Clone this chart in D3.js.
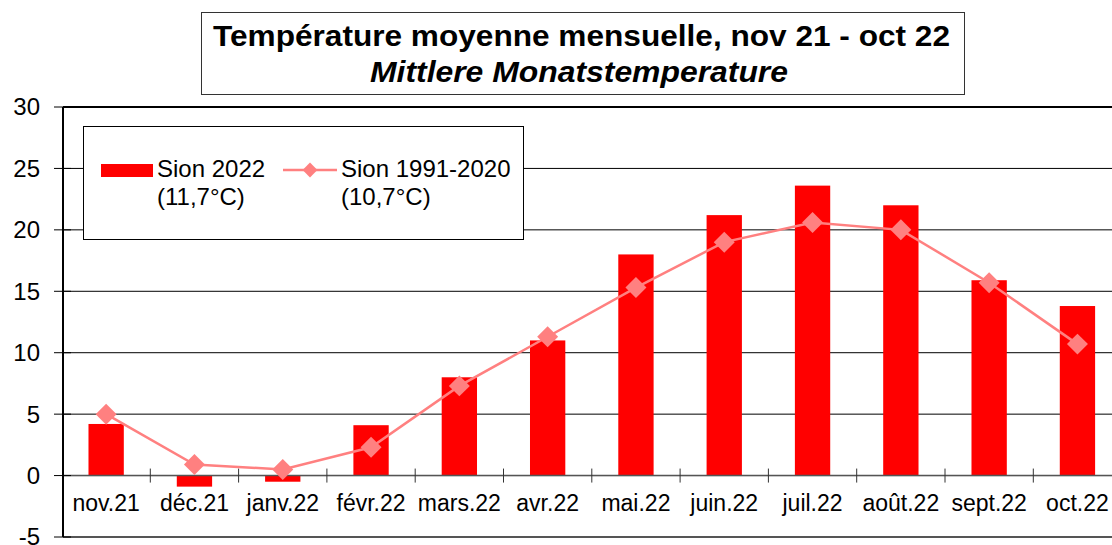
<!DOCTYPE html>
<html>
<head>
<meta charset="utf-8">
<script src="https://cdn.jsdelivr.net/npm/d3@7"></script>
<style>
  body { margin: 0; background: #fff; }
  svg { display: block; font-family: "Liberation Sans", Arial, sans-serif; }
</style>
</head>
<body>
<svg width="1112" height="545"></svg>
<script>
// Monthly mean temperature, Sion
const months = ["nov.21", "déc.21", "janv.22", "févr.22", "mars.22", "avr.22",
                "mai.22", "juin.22", "juil.22", "août.22", "sept.22", "oct.22"];
const sion2022 = [4.2, -0.9, -0.5, 4.1, 8.0, 11.0, 18.0, 21.2, 23.6, 22.0, 15.9, 13.8];
const sionNorm = [5.0, 0.9, 0.5, 2.3, 7.3, 11.3, 15.3, 19.0, 20.6, 20.0, 15.7, 10.7];
const yTicks = [-5, 0, 5, 10, 15, 20, 25, 30];

const svg = d3.select("svg");

const x = d3.scaleBand().domain(months).range([62, 62 + 12 * 88.3]).paddingInner(0.6).paddingOuter(0.3);
const y = d3.scaleLinear().domain([-5, 30]).range([537, 107]);
const step = x.step();

// grid lines
svg.append("g")
    .selectAll("line")
    .data(yTicks)
    .join("line")
    .attr("x1", 63).attr("x2", 1112)
    .attr("y1", d => y(d)).attr("y2", d => y(d))
    .attr("stroke", "#000").attr("stroke-width", 1);

// top / bottom frame a bit heavier
svg.append("line").attr("x1", 63).attr("x2", 1112).attr("y1", y(30)).attr("y2", y(30))
    .attr("stroke", "#000").attr("stroke-width", 2);
svg.append("line").attr("x1", 63).attr("x2", 1112).attr("y1", y(-5)).attr("y2", y(-5))
    .attr("stroke", "#555").attr("stroke-width", 2);

// bars
svg.append("g")
    .selectAll("rect")
    .data(sion2022)
    .join("rect")
    .attr("x", (d, i) => x(months[i]))
    .attr("width", x.bandwidth())
    .attr("y", d => y(Math.max(0, d)))
    .attr("height", d => Math.abs(y(d) - y(0)))
    .attr("fill", "#ff0000");

// zero axis with cross ticks at category boundaries
svg.append("line").attr("x1", 63).attr("x2", 1112).attr("y1", y(0)).attr("y2", y(0))
    .attr("stroke", "#555").attr("stroke-width", 1.5);
svg.append("g")
    .selectAll("line")
    .data(d3.range(1, 12))
    .join("line")
    .attr("x1", i => 62 + i * step).attr("x2", i => 62 + i * step)
    .attr("y1", y(0) - 7).attr("y2", y(0) + 7)
    .attr("stroke", "#333").attr("stroke-width", 1);

// y axis
svg.append("line").attr("x1", 63).attr("x2", 63).attr("y1", y(30)).attr("y2", y(-5))
    .attr("stroke", "#000").attr("stroke-width", 2);
svg.append("g")
    .selectAll("line")
    .data(yTicks)
    .join("line")
    .attr("x1", 54).attr("x2", 71)
    .attr("y1", d => y(d)).attr("y2", d => y(d))
    .attr("stroke", "#000").attr("stroke-width", 1);
svg.append("g")
    .selectAll("text")
    .data(yTicks)
    .join("text")
    .attr("x", 40).attr("y", d => y(d))
    .attr("dy", "0.35em")
    .attr("text-anchor", "end")
    .attr("font-size", 24)
    .text(d => d);

// category labels
svg.append("g")
    .selectAll("text")
    .data(months)
    .join("text")
    .attr("x", d => x(d) + x.bandwidth() / 2)
    .attr("y", 511)
    .attr("text-anchor", "middle")
    .attr("font-size", 23)
    .text(d => d);

// normal line
const lineColor = "#ff8080";
const cx = i => x(months[i]) + x.bandwidth() / 2;
svg.append("path")
    .datum(sionNorm)
    .attr("fill", "none")
    .attr("stroke", lineColor)
    .attr("stroke-width", 2.5)
    .attr("d", d3.line().x((d, i) => cx(i)).y(d => y(d)));

const diamond = d3.symbol(d3.symbolSquare, 220);
svg.append("g")
    .selectAll("path")
    .data(sionNorm)
    .join("path")
    .attr("d", diamond)
    .attr("transform", (d, i) => `translate(${cx(i)},${y(d)}) rotate(45)`)
    .attr("fill", lineColor);

// legend
const leg = svg.append("g");
leg.append("rect").attr("x", 83.5).attr("y", 126.5).attr("width", 440).attr("height", 113)
    .attr("fill", "#fff").attr("stroke", "#000").attr("stroke-width", 1);
leg.append("rect").attr("x", 101).attr("y", 164).attr("width", 52).attr("height", 13).attr("fill", "#ff0000");
leg.append("line").attr("x1", 283).attr("x2", 337).attr("y1", 170).attr("y2", 170)
    .attr("stroke", lineColor).attr("stroke-width", 2.5);
leg.append("path").attr("d", d3.symbol(d3.symbolSquare, 110))
    .attr("transform", "translate(310,170) rotate(45)").attr("fill", lineColor);
const legText = [
    ["Sion 2022", 157, 177], ["(11,7°C)", 157, 205],
    ["Sion 1991-2020", 341, 177], ["(10,7°C)", 341, 205]
];
leg.selectAll("text")
    .data(legText)
    .join("text")
    .attr("x", d => d[1]).attr("y", d => d[2])
    .attr("font-size", 24)
    .text(d => d[0]);

// title box
svg.append("rect").attr("x", 201.5).attr("y", 12.5).attr("width", 763).attr("height", 82)
    .attr("fill", "#fff").attr("stroke", "#333").attr("stroke-width", 1);
svg.append("text")
    .attr("x", 213).attr("y", 46)
    .attr("font-size", 30).attr("font-weight", "bold")
    .attr("textLength", 737).attr("lengthAdjust", "spacingAndGlyphs")
    .text("Température moyenne mensuelle, nov 21 - oct 22");
svg.append("text")
    .attr("x", 370).attr("y", 82)
    .attr("font-size", 30).attr("font-weight", "bold").attr("font-style", "italic")
    .attr("textLength", 418).attr("lengthAdjust", "spacingAndGlyphs")
    .text("Mittlere Monatstemperature");
</script>
</body>
</html>
